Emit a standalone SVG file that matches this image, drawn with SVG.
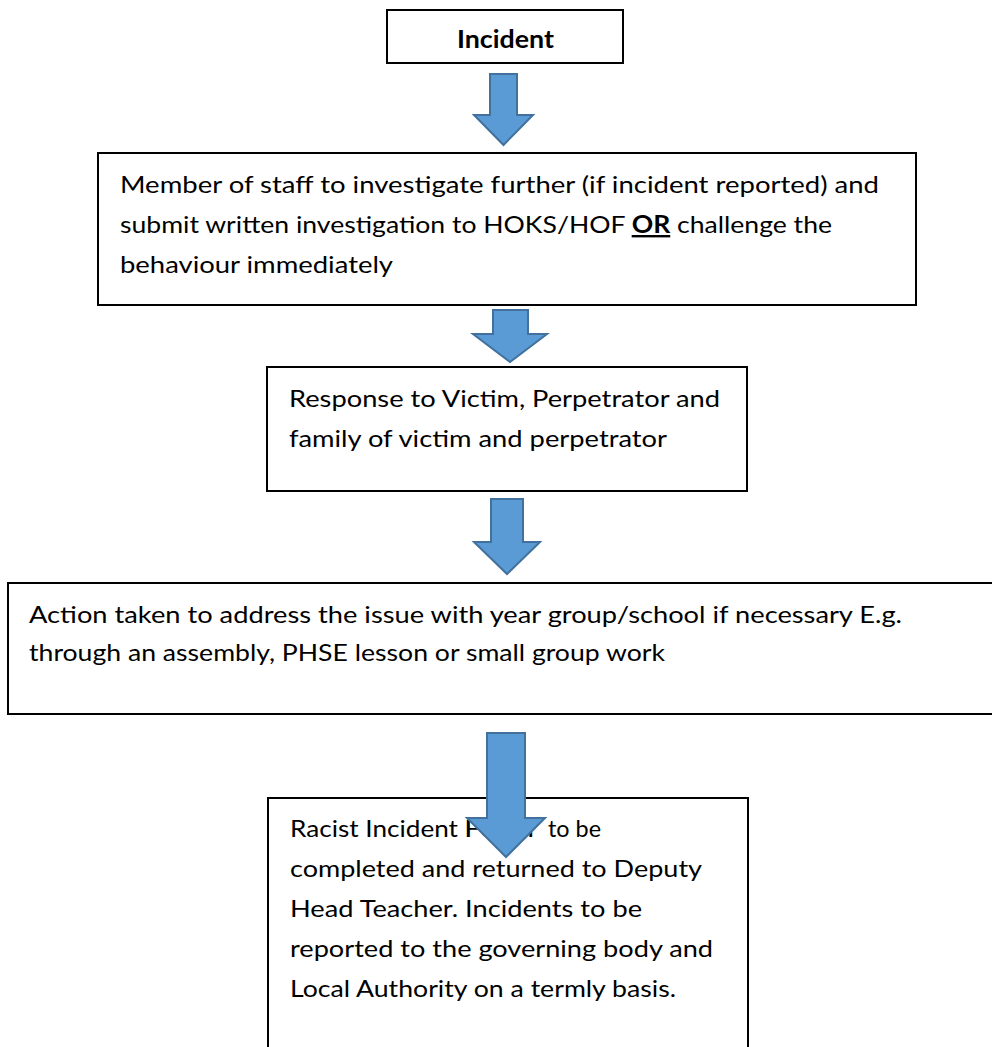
<svg xmlns="http://www.w3.org/2000/svg" width="992" height="1047" viewBox="0 0 992 1047">
<style>
.box{fill:#ffffff;stroke:#000000;stroke-width:2}
.t{font-family:Lato,"Open Sans","Liberation Sans",sans-serif;font-size:24px;fill:#000000}
.b{font-weight:bold}
.arrow{fill:#5B9BD5;stroke:#41719C;stroke-width:2;stroke-linejoin:miter}
</style>
<rect width="992" height="1047" fill="#ffffff"/>
<g id="node-incident">
<rect class="box" x="387" y="10" width="236" height="53"/>
<text class="t b" x="457" y="48" textLength="97" lengthAdjust="spacingAndGlyphs">Incident</text>
</g>
<g id="node-investigate">
<rect class="box" x="98" y="153" width="818" height="152"/>
<text class="t" x="120" y="193" textLength="759" lengthAdjust="spacingAndGlyphs">Member of staff to investigate further (if incident reported) and</text>
<text class="t" x="120" y="233" textLength="712" lengthAdjust="spacingAndGlyphs">submit written investigation to HOKS/HOF <tspan class="b" text-decoration="underline">OR</tspan> challenge the</text>
<text class="t" x="120" y="273" textLength="273" lengthAdjust="spacingAndGlyphs">behaviour immediately</text>
</g>
<g id="node-response">
<rect class="box" x="267" y="367" width="480" height="124"/>
<text class="t" x="289" y="407" textLength="431" lengthAdjust="spacingAndGlyphs">Response to Victim, Perpetrator and</text>
<text class="t" x="289" y="447" textLength="378" lengthAdjust="spacingAndGlyphs">family of victim and perpetrator</text>
</g>
<g id="node-action">
<rect class="box" x="8" y="583" width="1000" height="131"/>
<text class="t" x="29" y="623" textLength="873" lengthAdjust="spacingAndGlyphs">Action taken to address the issue with year group/school if necessary E.g.</text>
<text class="t" x="29" y="661" textLength="636" lengthAdjust="spacingAndGlyphs">through an assembly, PHSE lesson or small group work</text>
</g>
<g id="node-report">
<rect class="box" x="268" y="798" width="480" height="270"/>
<text class="t" x="290" y="837" textLength="168" lengthAdjust="spacingAndGlyphs">Racist Incident</text>
<text class="t" x="464" y="837" textLength="70" lengthAdjust="spacingAndGlyphs">Form</text>
<text class="t" x="548" y="837" textLength="53" lengthAdjust="spacingAndGlyphs">to be</text>
<text class="t" x="290" y="877" textLength="412" lengthAdjust="spacingAndGlyphs">completed and returned to Deputy</text>
<text class="t" x="290" y="917" textLength="352" lengthAdjust="spacingAndGlyphs">Head Teacher. Incidents to be</text>
<text class="t" x="290" y="957" textLength="423" lengthAdjust="spacingAndGlyphs">reported to the governing body and</text>
<text class="t" x="290" y="997" textLength="386" lengthAdjust="spacingAndGlyphs">Local Authority on a termly basis.</text>
</g>
<g id="connectors">
<polygon class="arrow" points="490,74 517,74 517,115 533,115 503.5,145 474,115 490,115"/>
<polygon class="arrow" points="493,310 528,310 528,334 547,334 510,362 473,334 493,334"/>
<polygon class="arrow" points="491,499 523,499 523,542 540,542 507,574 474,542 491,542"/>
<polygon class="arrow" points="487,733 525,733 525,818 545,818 506,857 467,818 487,818"/>
</g>
</svg>
